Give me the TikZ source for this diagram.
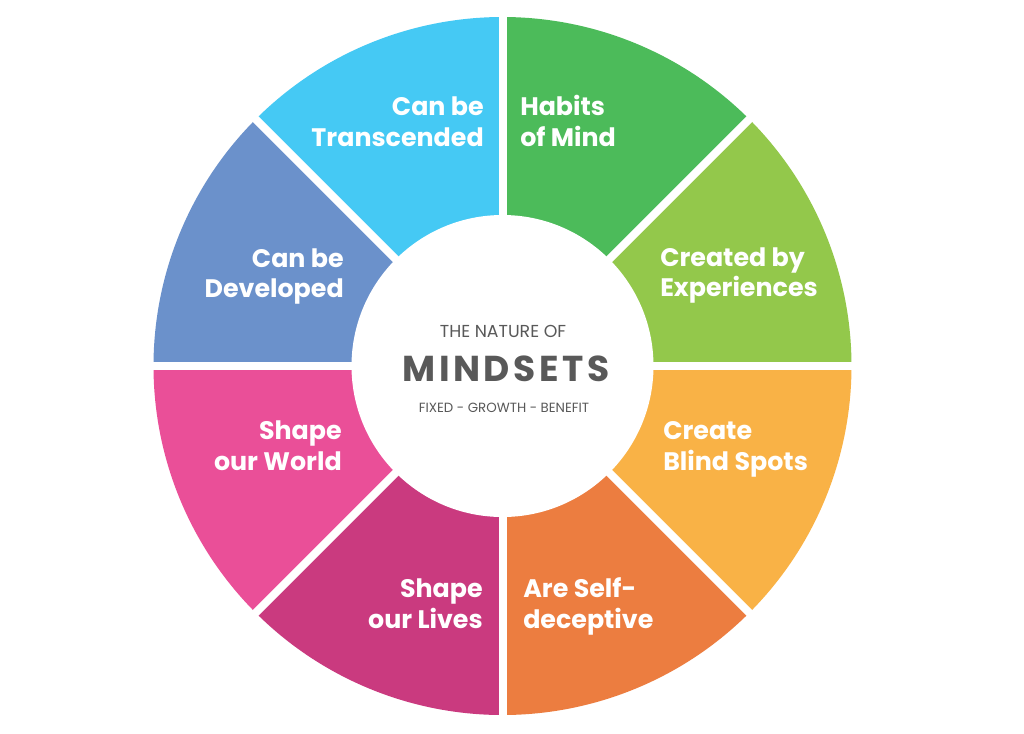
\documentclass[tikz,border=0pt]{standalone}
\usepackage{fontspec}
\setmainfont{Poppins}
\usetikzlibrary{calc}

\definecolor{segcyan}{HTML}{45C9F4}
\definecolor{seggreen}{HTML}{4CBB5A}
\definecolor{seglime}{HTML}{93C84B}
\definecolor{segyellow}{HTML}{F9B246}
\definecolor{segorange}{HTML}{EC7D40}
\definecolor{segmagenta}{HTML}{CA3A7F}
\definecolor{segpink}{HTML}{EA4F98}
\definecolor{segblue}{HTML}{6B91CB}
\definecolor{hubgray}{HTML}{595959}

\tikzset{
  seglabel/.style={text=white, inner sep=0pt, font=\fontsize{19}{23.2}\selectfont\bfseries},
  hubtext/.style={text=hubgray, inner sep=0pt}
}

\begin{document}
\begin{tikzpicture}[x=0.75pt,y=0.75pt,yscale=-1,xscale=1]
\useasboundingbox (0,0) rectangle (1024,733);
\fill[white] (0,0) rectangle (1024,733);

\coordinate (ctr) at (502.5,366);

%Shape: Sectors
\foreach \a/\col in {-90/seggreen,-45/seglime,0/segyellow,45/segorange,90/segmagenta,135/segpink,180/segblue,225/segcyan}{
  \fill[\col] (ctr) -- ++(\a:349) arc (\a:\a+45:349) -- cycle ;
}
%Straight Lines: gaps
\foreach \a in {0,45,90,135}{
  \draw[white, line width=6pt] ($(ctr)+(\a:360)$) -- ($(ctr)+(\a+180:360)$) ;
}
%Shape: Circle
\fill[white] (ctr) circle (151) ;

% Text Node
\draw (484,122) node (transc) [seglabel, anchor=east, align=right] {Can be\\Transcended};
% Text Node
\draw (520,121) node (habits) [seglabel, anchor=west, align=left] {Habits\\of Mind};
% Text Node
\draw (660,275.5) node (created) [seglabel, anchor=west, align=left] {Created by\\Experiences};
% Text Node
\draw (663,449.5) node (blind) [seglabel, anchor=west, align=left] {Create\\Blind Spots};
% Text Node
\draw (523,606.5) node (selfdec) [seglabel, anchor=west, align=left] {Are Self-\\deceptive};
% Text Node
\draw (483,604) node (lives) [seglabel, anchor=east, align=right] {Shape\\our Lives};
% Text Node
\draw (342,446) node (world) [seglabel, anchor=east, align=right] {Shape\\our World};
% Text Node
\draw (344,276.5) node (devel) [seglabel, anchor=east, align=right] {Can be\\Developed};

% Text Node
\draw (503,331) node (nature) [hubtext, font=\fontsize{13}{15}\selectfont] {THE NATURE OF};
% Text Node
\draw (506,369) node (mindsets) [hubtext, font=\fontsize{27}{32}\selectfont\bfseries\addfontfeature{LetterSpace=10}] {MINDSETS};
% Text Node
\draw (504,408) node (fixed) [hubtext, font=\fontsize{10}{12}\selectfont] {FIXED - GROWTH - BENEFIT};

\end{tikzpicture}
\end{document}
